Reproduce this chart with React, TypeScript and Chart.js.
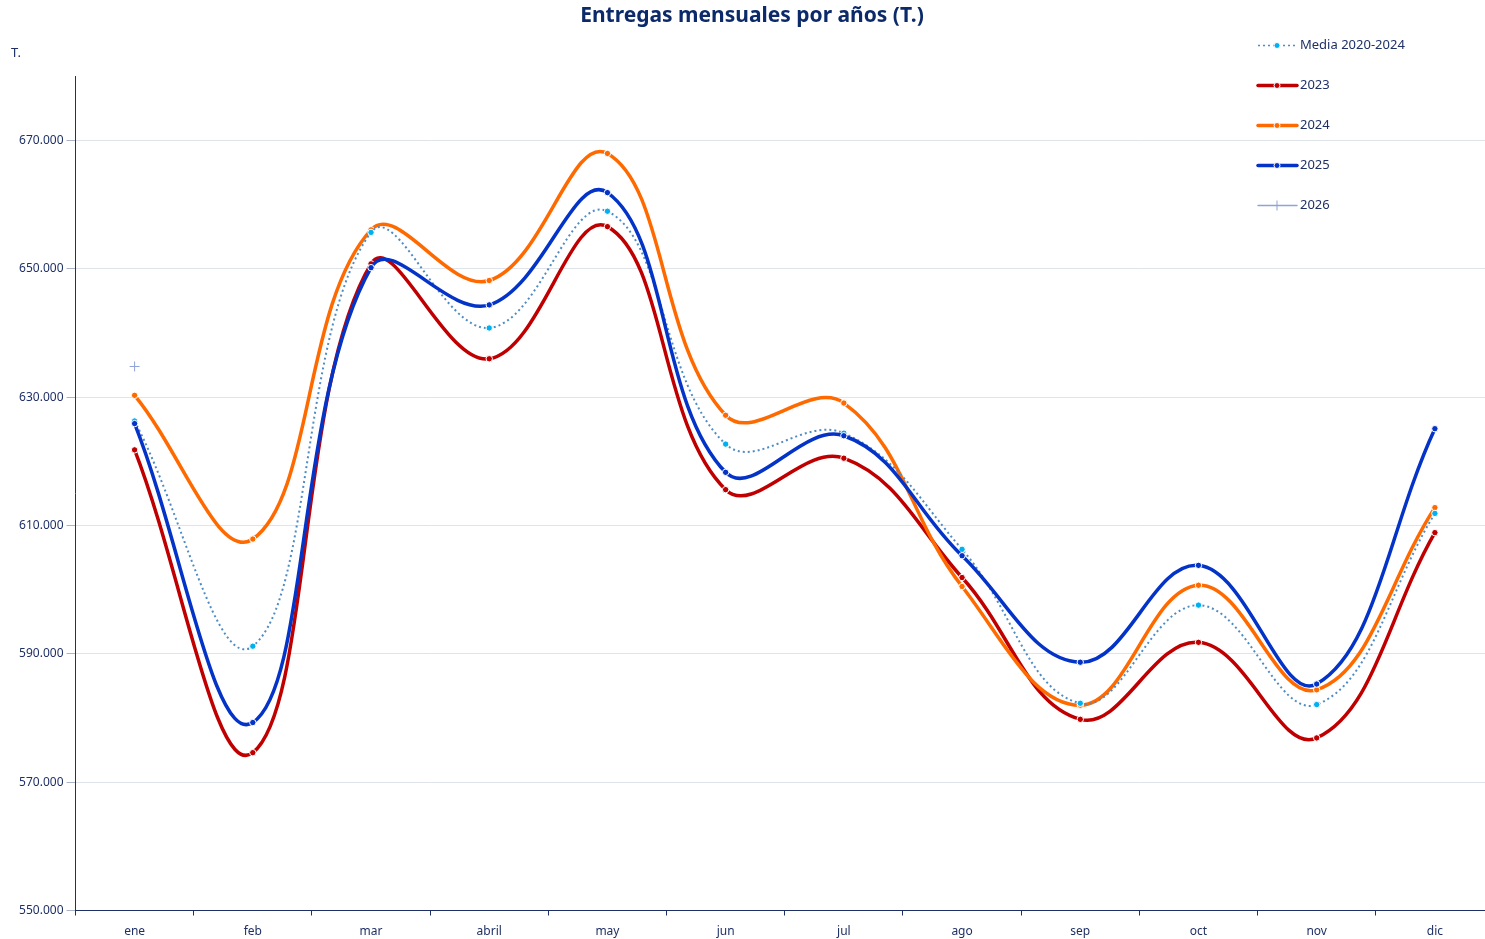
import React, { useEffect, useRef } from "react";
import { Chart, registerables } from "chart.js";

Chart.register(...registerables);

const months = ["ene", "feb", "mar", "abril", "may", "jun", "jul", "ago", "sep", "oct", "nov", "dic"];
const media2020_2024 = [626300, 591200, 655700, 640800, 659000, 622700, 624400, 606300, 582300, 597600, 582100, 611900];
const y2023 = [621800, 574600, 650800, 636000, 656600, 615600, 620500, 601900, 579800, 591800, 576900, 608900];
const y2024 = [630300, 607900, 656100, 648200, 668000, 627200, 629100, 600500, 582000, 600700, 584400, 612800];
const y2025 = [625900, 579300, 650200, 644400, 661900, 618300, 624000, 605300, 588700, 603800, 585300, 625100];
const y2026 = [634800, null, null, null, null, null, null, null, null, null, null, null];
const yTicks = [550000, 570000, 590000, 610000, 630000, 650000, 670000];

const NAVY = "#1f3066";
const FONT = "'Noto Sans', 'Open Sans', sans-serif";

const fmt = (v: number) => String(Math.round(v)).replace(/\B(?=(\d{3})+(?!\d))/g, ".");

const overlayPlugin = {
  id: "overlay",
  afterDraw(chart: any) {
    const ctx = chart.ctx;
    ctx.save();
    // Title
    ctx.fillStyle = "#0c2a69";
    ctx.font = `bold 21px ${FONT}`;
    ctx.textAlign = "center";
    ctx.textBaseline = "middle";
    ctx.fillText("Entregas mensuales por años (T.)", 752, 16);
    // Y unit
    ctx.fillStyle = NAVY;
    ctx.font = `13px ${FONT}`;
    ctx.textAlign = "left";
    ctx.fillText("T.", 11, 53);
    // Legend
    chart.data.datasets.forEach((ds: any, i: number) => {
      const y = 45.5 + i * 40;
      const x0 = 1258, x1 = 1297, cx = 1277;
      ctx.save();
      ctx.strokeStyle = ds.borderColor;
      ctx.lineWidth = ds.legendLineWidth || ds.borderWidth;
      ctx.setLineDash(ds.borderDash || []);
      ctx.lineCap = ds.borderDash ? "butt" : "round";
      ctx.beginPath();
      ctx.moveTo(x0, y);
      ctx.lineTo(x1, y);
      ctx.stroke();
      ctx.restore();
      if (ds.pointStyle === "cross") {
        ctx.save();
        ctx.strokeStyle = ds.pointBorderColor;
        ctx.lineWidth = 1;
        ctx.beginPath();
        ctx.moveTo(cx, y - 5);
        ctx.lineTo(cx, y + 5);
        ctx.stroke();
        ctx.restore();
      } else {
        ctx.beginPath();
        ctx.fillStyle = ds.pointBackgroundColor;
        ctx.strokeStyle = "#ffffff";
        ctx.lineWidth = 1;
        ctx.arc(cx, y, 3, 0, Math.PI * 2);
        ctx.fill();
        ctx.stroke();
      }
      ctx.fillStyle = NAVY;
      ctx.font = `13px ${FONT}`;
      ctx.textAlign = "left";
      ctx.textBaseline = "middle";
      ctx.fillText(ds.label, 1300, y);
    });
    ctx.restore();
  },
};

export default function App() {
  const ref = useRef<HTMLCanvasElement | null>(null);
  useEffect(() => {
    if (!ref.current) return;
    const mk = (label: string, data: any[], color: string, extra: any = {}) => ({
      label,
      data,
      borderColor: color,
      backgroundColor: color,
      pointBackgroundColor: color,
      pointBorderColor: "#ffffff",
      pointBorderWidth: 1,
      pointRadius: 3.2,
      borderWidth: 3.5,
      tension: 0.4,
      fill: false,
      ...extra,
    });
    const chart = new Chart(ref.current, {
      type: "line",
      data: {
        labels: months,
        datasets: [
          mk("Media 2020-2024", media2020_2024, "#4f8cc4", {
            borderWidth: 2,
            legendLineWidth: 1.5,
            borderDash: [2, 3],
            pointBackgroundColor: "#00b0f0",
            order: 2,
          }),
          mk("2023", y2023, "#c00000", { order: 3 }),
          mk("2024", y2024, "#ff6a00", { order: 2.5 }),
          mk("2025", y2025, "#0433c8", { order: 1 }),
          mk("2026", y2026, "#8fa3d9", {
            borderWidth: 1.5,
            pointStyle: "cross",
            pointRadius: 5,
            pointBorderColor: "#8fa3d9",
            pointBorderWidth: 1,
            order: 0,
          }),
        ],
      },
      options: {
        animation: false,
        responsive: true,
        maintainAspectRatio: false,
        layout: { padding: { top: 76.5, right: 10, left: 0, bottom: 0 } },
        plugins: {
          legend: { display: false },
          title: { display: false },
          tooltip: { enabled: false },
        },
        scales: {
          x: {
            type: "category",
            offset: true,
            grid: {
              display: true,
              drawOnChartArea: false,
              offset: true,
              tickLength: 5,
              tickColor: NAVY,
            },
            border: { color: NAVY, width: 1 },
            ticks: { color: NAVY, font: { family: FONT, size: 12 }, padding: 9, maxRotation: 0 },
            afterFit: (s: any) => { s.height = 28.5; },
          },
          y: {
            min: 550000,
            max: 680000,
            afterBuildTicks: (s: any) => { s.ticks = yTicks.map((v) => ({ value: v })); },
            grid: { color: "#dfe3ea", lineWidth: 1, tickLength: 9, tickColor: "#aab3c8" },
            border: { color: NAVY, width: 1 },
            ticks: {
              color: NAVY,
              font: { family: FONT, size: 12 },
              padding: 3,
              callback: (v: any) => fmt(Number(v)),
            },
            afterFit: (s: any) => { s.width = 75.5; },
          },
        },
      },
      plugins: [overlayPlugin],
    });
    return () => chart.destroy();
  }, []);
  return (
    <div style={{ position: "fixed", left: 0, top: 0, width: 1485, height: 939, overflow: "hidden", background: "#fff" }}>
      <div style={{ position: "absolute", left: 0, top: 0, width: 1504, height: 939 }}>
        <canvas ref={ref} />
      </div>
    </div>
  );
}
